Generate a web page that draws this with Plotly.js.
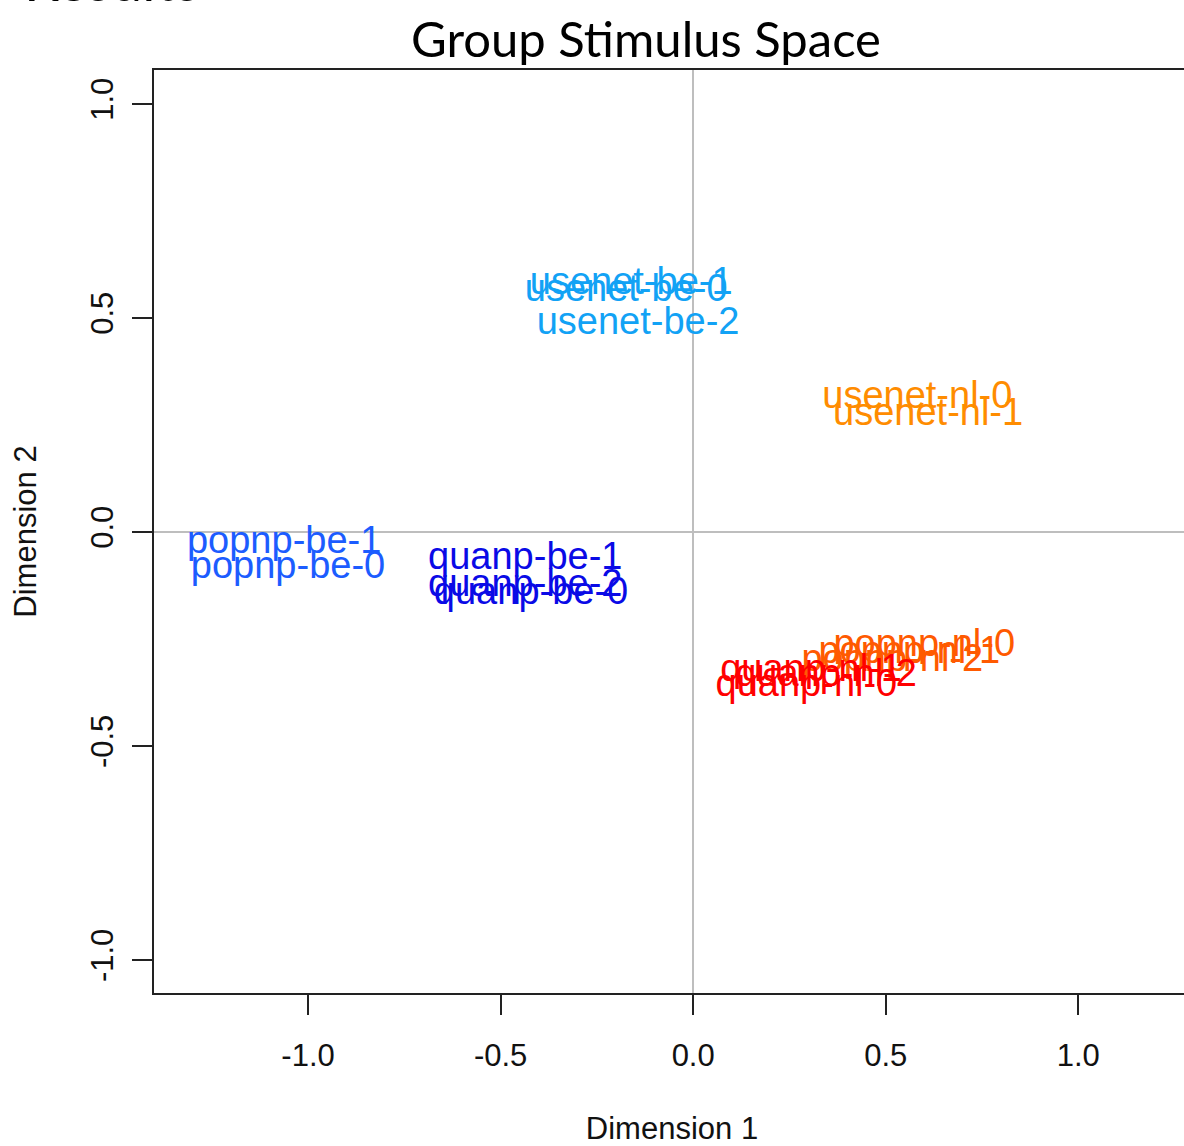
<!DOCTYPE html>
<html>
<head>
<meta charset="utf-8">
<script src="https://cdn.plot.ly/plotly-3.0.1.min.js"></script>
<style>
  html, body { margin: 0; padding: 0; overflow: hidden; background: #ffffff; }
  #chart { width: 1200px; height: 1146px; }
</style>
</head>
<body>
<div id="chart"></div>
<script>
// ---- data ----
var labels = [
  "usenet-be-1", "usenet-be-0", "usenet-be-2",
  "usenet-nl-0", "usenet-nl-1",
  "popnp-be-1", "popnp-be-0",
  "quanp-be-1", "quanp-be-2", "quanp-be-0",
  "popnp-nl-0", "popnp-nl-1", "popnp-nl-2",
  "quanp-nl-1", "quanp-nl-2", "quanp-nl-0"
];
var dim1 = [
  -0.161, -0.174, -0.143,
  0.582, 0.610,
  -1.062, -1.052,
  -0.436, -0.436, -0.421,
  0.600, 0.561, 0.517,
  0.306, 0.345, 0.294
];
var dim2 = [
  0.577, 0.561, 0.484,
  0.311, 0.272,
  -0.028, -0.086,
  -0.065, -0.128, -0.147,
  -0.268, -0.285, -0.303,
  -0.327, -0.338, -0.362
];
var groups = ["usenet-be", "usenet-nl", "popnp-be", "quanp-be", "popnp-nl", "quanp-nl"];
var groupColors = ["#12a2f5", "#ff8c00", "#1c5cff", "#0a0ae6", "#ff5a00", "#ff0000"];
var tickVals = [-1, -0.5, 0, 0.5, 1];
var tickText = ["-1.0", "-0.5", "0.0", "0.5", "1.0"];

// ---- build ----
function colorOf(lbl) {
  for (var i = 0; i < groups.length; i++) {
    if (lbl.indexOf(groups[i] + "-") === 0) return groupColors[i];
  }
  return "#000";
}
var colors = labels.map(colorOf);

var trace = {
  type: "scatter",
  mode: "text",
  x: dim1,
  y: dim2,
  text: labels,
  textposition: "middle center",
  textfont: { family: "Liberation Sans, Arial, sans-serif", size: 38, color: colors },
  hoverinfo: "text",
  showlegend: false,
  cliponaxis: false
};

var axisFont = { family: "Liberation Sans, Arial, sans-serif", size: 31, color: "#111" };

var layout = {
  width: 1200,
  height: 1146,
  margin: { l: 154, r: 10, t: 70, b: 153 },
  paper_bgcolor: "#ffffff",
  plot_bgcolor: "#ffffff",
  title: {
    text: "Group Stimulus Space",
    font: { family: "Lato, 'Open Sans', sans-serif", size: 49, color: "#000" },
    xref: "container", yref: "container",
    x: 646 / 1200, xanchor: "center",
    y: 1 - 40 / 1146, yanchor: "middle"
  },
  xaxis: {
    range: [-1.4, 1.29],
    showgrid: false,
    zeroline: true, zerolinecolor: "#bebebe", zerolinewidth: 2,
    showline: true, mirror: true, linecolor: "#222", linewidth: 2,
    ticks: "outside", ticklen: 20, tickwidth: 2, tickcolor: "#222",
    tickvals: tickVals, ticktext: tickText,
    tickfont: axisFont,
    ticklabelstandoff: 14,
    title: { text: "Dimension 1", font: axisFont, standoff: 52 }
  },
  yaxis: {
    range: [-1.077, 1.079],
    showgrid: false,
    zeroline: true, zerolinecolor: "#bebebe", zerolinewidth: 2,
    showline: true, mirror: true, linecolor: "#222", linewidth: 2,
    ticks: "outside", ticklen: 20, tickwidth: 2, tickcolor: "#222",
    tickvals: tickVals, ticktext: tickText,
    tickangle: -90,
    tickfont: axisFont,
    ticklabelstandoff: 7,
    title: { text: "Dimension 2", font: axisFont, standoff: 39 }
  },
  annotations: [{
    text: "Results",
    xref: "paper", yref: "paper",
    x: (22 - 154) / 1036, xanchor: "left",
    y: (993 - 15.5) / 923, yanchor: "bottom",
    showarrow: false,
    font: { family: "Lato, 'Open Sans', sans-serif", size: 56, color: "#000" }
  }]
};

Plotly.newPlot("chart", [trace], layout, { displayModeBar: false, staticPlot: true });
</script>
</body>
</html>
